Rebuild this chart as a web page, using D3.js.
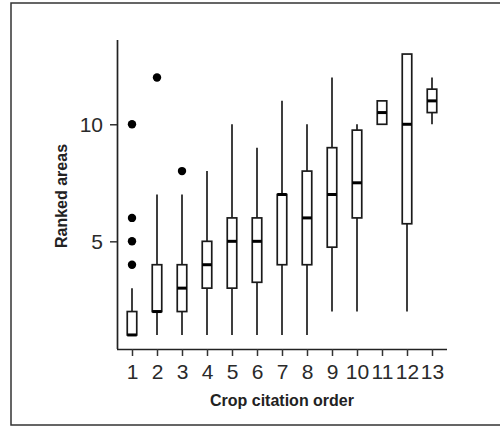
<!DOCTYPE html>
<html lang="en">
<head>
  <meta charset="UTF-8">
  <title>Ranked areas by crop citation order</title>
  <script src="https://d3js.org/d3.v7.min.js"></script>
  <style>
    body
    {
      margin: 0;
      background-color: #fff;
    }
    svg
    {
      font-family: "Liberation Sans", Arial, sans-serif;
    }
  </style>
</head>
<body>
  <svg width="500" height="426"></svg>
  <script>
    // box summaries
    const orders   = ["1", "2", "3", "4", "5", "6", "7", "8", "9", "10", "11", "12", "13"];
    const lowerWhisker = [1, 1, 1, 1, 1, 1, 1, 1, 2, 2, 10, 2, 10];
    const q1       = [1, 2, 2, 3, 3, 3.25, 4, 4, 4.75, 6, 10, 5.75, 10.5];
    const medians  = [1, 2, 3, 4, 5, 5, 7, 6, 7, 7.5, 10.5, 10, 11];
    const q3       = [2, 4, 4, 5, 6, 6, 7, 8, 9, 9.75, 11, 13, 11.5];
    const upperWhisker = [3, 7, 7, 8, 10, 9, 11, 10, 12, 10, 11, 13, 12];
    const outliers = [[4, 5, 6, 10], [12], [8], [], [], [], [], [], [], [], [], [], []];
    const yTicks   = [5, 10];

    const boxes = orders.map((o, i) => ({
      order: o,
      lo: lowerWhisker[i],
      q1: q1[i],
      med: medians[i],
      q3: q3[i],
      hi: upperWhisker[i],
      out: outliers[i]
    }));

    const svg = d3.select("svg");

    // outer frame (right edge falls off the picture)
    svg.append("rect")
      .attr("x", 11).attr("y", 3)
      .attr("width", 500).attr("height", 422)
      .attr("fill", "none")
      .attr("stroke", "#333")
      .attr("stroke-width", 1.5);

    const plotLeft = 117, plotRight = 447, plotTop = 40, plotBottom = 349;

    const x = d3.scalePoint()
      .domain(orders)
      .range([plotLeft, plotRight])
      .padding(0.6);

    const y = d3.scaleLinear()
      .domain([0.4, 13.6])
      .range([plotBottom, plotTop]);

    const boxW = 9.5;

    // axes
    const xAxis = svg.append("g")
      .attr("transform", `translate(0,${plotBottom})`)
      .call(d3.axisBottom(x).tickSize(7).tickPadding(8));

    const yAxis = svg.append("g")
      .attr("transform", `translate(${plotLeft},0)`)
      .call(d3.axisLeft(y).tickValues(yTicks).tickSize(7).tickPadding(7));

    [xAxis, yAxis].forEach(g => {
      g.select(".domain").attr("stroke", "#222").attr("stroke-width", 1.7);
      g.selectAll(".tick line").attr("stroke", "#333").attr("stroke-width", 1.5);
      g.selectAll(".tick text")
        .attr("fill", "#2a2a2a")
        .style("font-size", "21px")
        .style("font-family", "'Liberation Sans', Arial, sans-serif");
    });
    xAxis.select(".domain").attr("d", `M${plotLeft},0.5H${plotRight}`);
    yAxis.select(".domain").attr("d", `M0.5,${plotBottom}V${plotTop}`);

    // axis titles
    svg.append("text")
      .attr("x", (plotLeft + plotRight) / 2)
      .attr("y", 406)
      .attr("text-anchor", "middle")
      .attr("font-weight", "bold")
      .attr("font-size", 16)
      .attr("fill", "#222")
      .text("Crop citation order");

    svg.append("text")
      .attr("transform", `translate(67,196) rotate(-90)`)
      .attr("text-anchor", "middle")
      .attr("font-weight", "bold")
      .attr("font-size", 16)
      .attr("fill", "#222")
      .text("Ranked areas");

    // box plots
    const g = svg.append("g")
      .selectAll("g")
      .data(boxes)
      .join("g")
      .attr("transform", d => `translate(${x(d.order)},0)`);

    g.filter(d => d.hi > d.q3).append("line")
      .attr("y1", d => y(d.q3)).attr("y2", d => y(d.hi))
      .attr("stroke", "#2a2a2a").attr("stroke-width", 1.8);

    g.filter(d => d.lo < d.q1).append("line")
      .attr("y1", d => y(d.q1)).attr("y2", d => y(d.lo))
      .attr("stroke", "#2a2a2a").attr("stroke-width", 1.8);

    g.append("rect")
      .attr("x", -boxW / 2)
      .attr("width", boxW)
      .attr("y", d => y(d.q3))
      .attr("height", d => y(d.q1) - y(d.q3))
      .attr("fill", "#fff")
      .attr("stroke", "#1a1a1a")
      .attr("stroke-width", 1.7);

    g.append("line")
      .attr("x1", -boxW / 2).attr("x2", boxW / 2)
      .attr("y1", d => y(d.med)).attr("y2", d => y(d.med))
      .attr("stroke", "#000").attr("stroke-width", 3);

    g.selectAll("circle")
      .data(d => d.out)
      .join("circle")
      .attr("cy", v => y(v))
      .attr("r", 4.2)
      .attr("fill", "#000");
  </script>
</body>
</html>
